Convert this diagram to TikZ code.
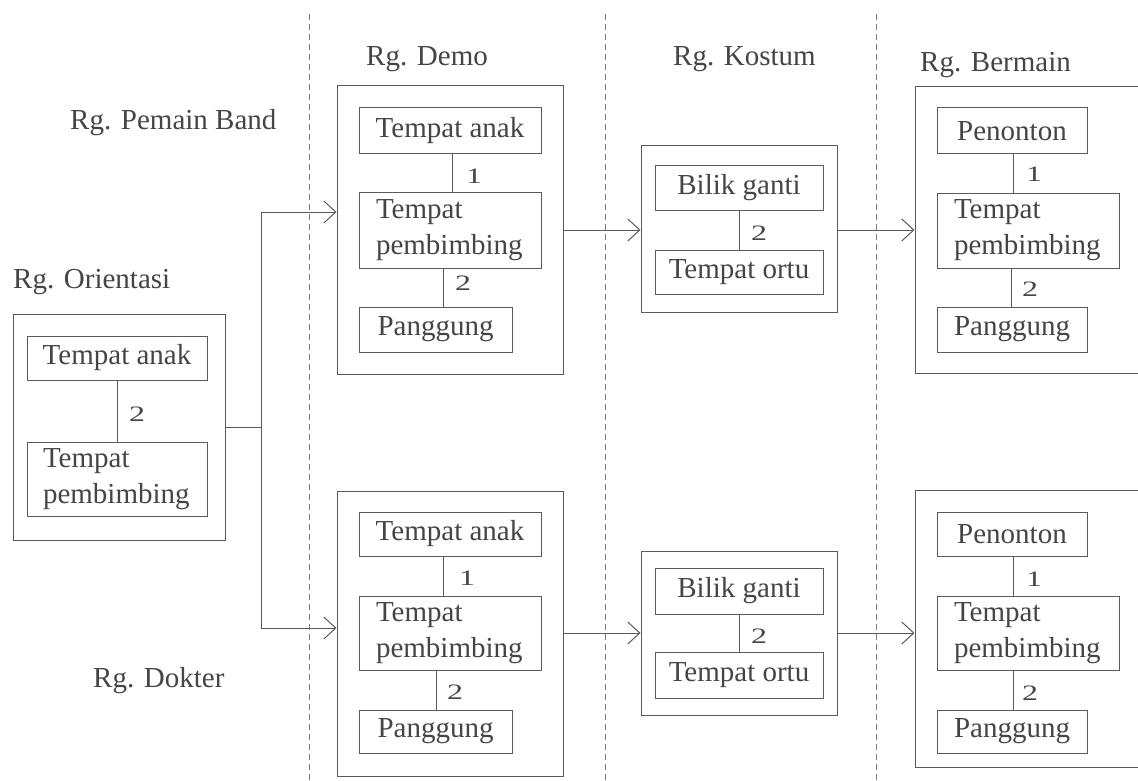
\documentclass[tikz,border=0pt]{standalone}
\usepackage{fontspec}
\setmainfont{Liberation Serif}
\usepackage{graphicx}
\usetikzlibrary{arrows.meta}
\definecolor{ink}{HTML}{454545}
\definecolor{rule}{HTML}{5A5A5A}
\definecolor{guide}{HTML}{7A7A7A}
% relation weight between two areas, set a little wider than tall
\newcommand{\weighttag}[1]{\scalebox{1.45}[1]{\fontsize{22}{22}\selectfont #1}}
\begin{document}
\begin{tikzpicture}[x=1pt,y=-1pt,
  txt/.style={font=\fontsize{29}{36}\selectfont, text=ink},
  room/.style={draw=rule, line width=1pt, inner sep=0pt},
  cell/.style={draw=rule, line width=1pt, inner sep=0pt, txt},
  cell2/.style={draw=rule, line width=1pt, inner ysep=0pt, inner xsep=17pt,
                text width=148pt, align=left, txt},
  title/.style={anchor=base west, inner sep=0pt, txt},
  num/.style={anchor=base west, inner sep=0pt, text=ink},
  link/.style={draw=rule, line width=1pt},
  flow/.style={draw=rule, line width=1pt, -{Straight Barb[length=12pt,width=22pt]}},
  divider/.style={draw=guide, line width=1pt, dash pattern=on 6pt off 4pt}]

\useasboundingbox (0,0) rectangle (1138,781);
\clip (0,0) rectangle (1138,781);
\fill[white] (0,0) rectangle (1138,781);

% column dividers
\draw[divider] (309,14) -- (309,781);
\draw[divider] (605,14) -- (605,781);
\draw[divider] (876,14) -- (876,781);

% room titles
\node[title] (tBand)    at (70,130)  {Rg. Pemain Band};
\node[title] (tOrient)  at (13,288)  {Rg. Orientasi};
\node[title] (tDemo)    at (366,66)  {Rg. Demo};
\node[title] (tKostum)  at (673,66)  {Rg. Kostum};
\node[title] (tBermain) at (920,72)  {Rg. Bermain};
\node[title] (tDokter)  at (93,687)  {Rg. Dokter};

% ---- Rg. Orientasi
\node[room, minimum width=212pt, minimum height=226pt] (orient) at (119,427) {};
\node[cell, minimum width=180pt, minimum height=44pt] (oAnak) at (117,358) {Tempat anak};
\node[cell2, inner xsep=16pt, minimum height=74pt] (oPemb) at (117,479) {Tempat\\pembimbing};
\draw[link] (oAnak.south) -- (oPemb.north);
\node[num] (oW) at (129,421) {\weighttag{2}};

% ---- Rg. Demo (upper)
\node[room, minimum width=226pt, minimum height=288pt] (demoA) at (450,230) {};
\node[cell, minimum width=182pt, minimum height=46pt] (dAanak) at (450,131) {Tempat anak};
\node[cell2, minimum height=76pt] (dApemb) at (450,230) {Tempat\\pembimbing};
\node[cell, minimum width=153pt, minimum height=45pt] (dApang) at (435.5,329.5) {Panggung};
\draw[link] (dAanak.south -| 452,0) -- (dApemb.north -| 452,0);
\draw[link] (dApemb.south -| 443,0) -- (dApang.north -| 443,0);
\node[num] (dAw1) at (466,183) {\weighttag{1}};
\node[num] (dAw2) at (455,290) {\weighttag{2}};

% ---- Rg. Demo (lower)
\node[room, minimum width=226pt, minimum height=285pt] (demoB) at (450,633.5) {};
\node[cell, minimum width=182pt, minimum height=44pt] (dBanak) at (450,534) {Tempat anak};
\node[cell2, minimum height=74pt] (dBpemb) at (450,633) {Tempat\\pembimbing};
\node[cell, minimum width=153pt, minimum height=43pt] (dBpang) at (435.5,731.5) {Panggung};
\draw[link] (dBanak.south -| 443,0) -- (dBpemb.north -| 443,0);
\draw[link] (dBpemb.south -| 436,0) -- (dBpang.north -| 436,0);
\node[num] (dBw1) at (459,585) {\weighttag{1}};
\node[num] (dBw2) at (447,699) {\weighttag{2}};

% ---- Rg. Kostum (upper)
\node[room, minimum width=196pt, minimum height=166pt] (kosA) at (739,229) {};
\node[cell, minimum width=168pt, minimum height=44pt] (kAbilik) at (739,188) {Bilik ganti};
\node[cell, minimum width=168pt, minimum height=44pt] (kAortu) at (739,272) {Tempat ortu};
\draw[link] (kAbilik.south) -- (kAortu.north);
\node[num] (kAw) at (751,240) {\weighttag{2}};

% ---- Rg. Kostum (lower)
\node[room, minimum width=196pt, minimum height=164pt] (kosB) at (739,633) {};
\node[cell, minimum width=168pt, minimum height=46pt] (kBbilik) at (739,591) {Bilik ganti};
\node[cell, minimum width=168pt, minimum height=46pt] (kBortu) at (739,675) {Tempat ortu};
\draw[link] (kBbilik.south) -- (kBortu.north);
\node[num] (kBw) at (751,643) {\weighttag{2}};

% ---- Rg. Bermain (upper)
\node[room, minimum width=285pt, minimum height=286pt] (berA) at (1057.5,230) {};
\node[cell, minimum width=150pt, minimum height=46pt] (bApen) at (1012,131) {Penonton};
\node[cell2, minimum height=75pt] (bApemb) at (1028,230.5) {Tempat\\pembimbing};
\node[cell, minimum width=150pt, minimum height=45pt] (bApang) at (1012,329.5) {Panggung};
\draw[link] (bApen.south -| 1013,0) -- (bApemb.north -| 1013,0);
\draw[link] (bApemb.south -| 1011,0) -- (bApang.north -| 1011,0);
\node[num] (bAw1) at (1026,182) {\weighttag{1}};
\node[num] (bAw2) at (1022,296) {\weighttag{2}};

% ---- Rg. Bermain (lower)
\node[room, minimum width=285pt, minimum height=277pt] (berB) at (1057.5,628.5) {};
\node[cell, minimum width=150pt, minimum height=44pt] (bBpen) at (1012,534) {Penonton};
\node[cell2, minimum height=74pt] (bBpemb) at (1028,633) {Tempat\\pembimbing};
\node[cell, minimum width=150pt, minimum height=43pt] (bBpang) at (1012,731.5) {Panggung};
\draw[link] (bBpen.south -| 1013,0) -- (bBpemb.north -| 1013,0);
\draw[link] (bBpemb.south -| 1013,0) -- (bBpang.north -| 1013,0);
\node[num] (bBw1) at (1026,586) {\weighttag{1}};
\node[num] (bBw2) at (1022,700) {\weighttag{2}};

% ---- circulation
\coordinate (split) at (261,427);
\draw[link] (orient.east) -- (split);
\draw[flow] (split) |- (demoA.west |- 0,212);
\draw[flow] (split) |- (demoB.west |- 0,628);
\draw[flow] (demoA.east) -- (kosA.west |- demoA.east);
\draw[flow] (kosA.east |- demoA.east) -- (berA.west |- demoA.east);
\draw[flow] (demoB.east |- kosB.west) -- (kosB.west);
\draw[flow] (kosB.east) -- (berB.west |- kosB.east);
\end{tikzpicture}
\end{document}
